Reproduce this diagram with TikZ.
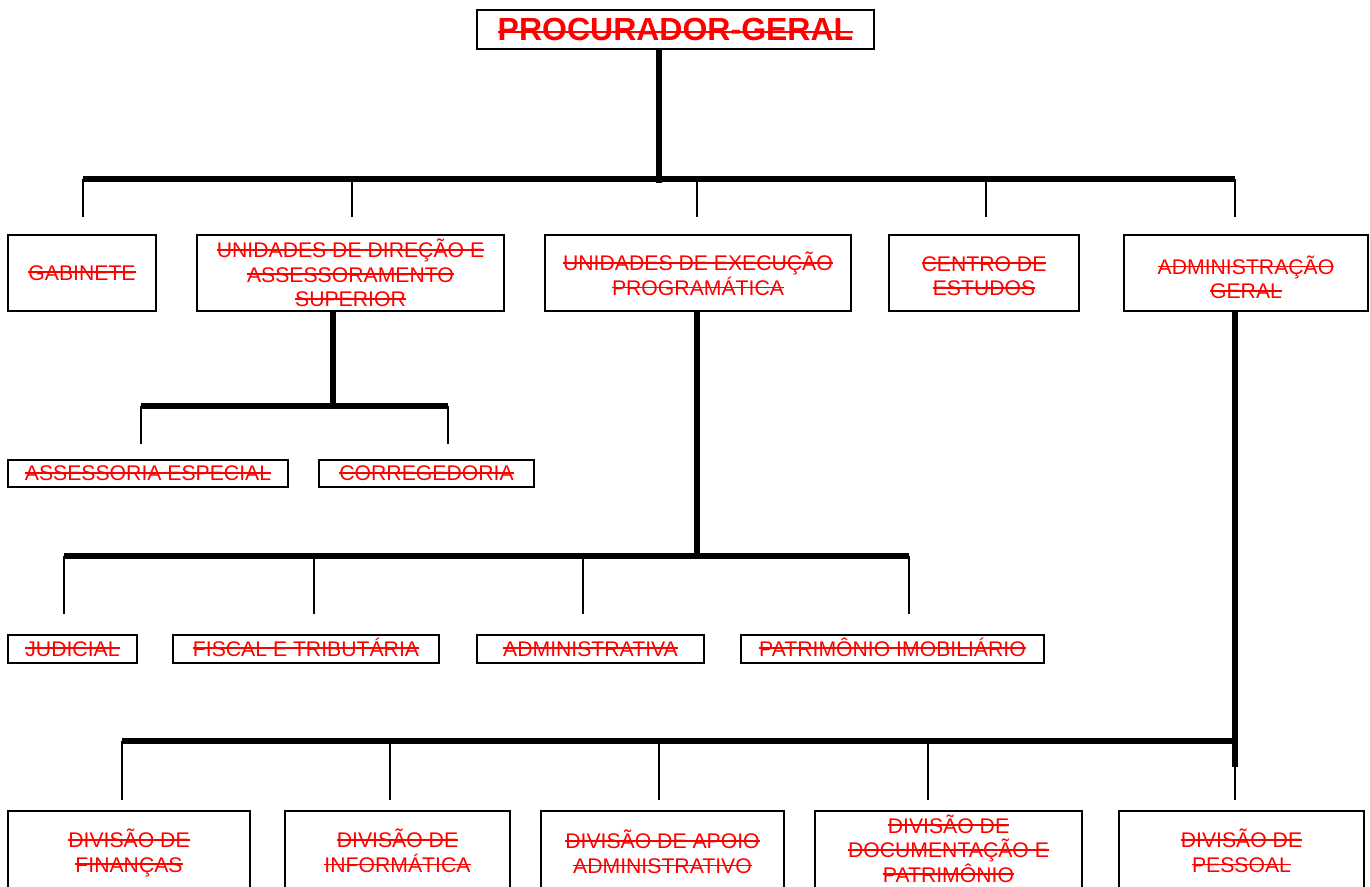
\documentclass[tikz,border=0pt]{standalone}
\usepackage{fontspec}
\setmainfont{Liberation Sans}
\newcommand\stk[2][0.33em]{\leavevmode\setbox0=\hbox{#2}\rlap{\copy0}\rule[#1]{\wd0}{1.4pt}}
\newcommand\orgbox[7][0]{\node[orgnode,minimum width={(#5-#3)*0.75pt},minimum height={(#6-#4)*0.75pt},
  label={[orgtext,yshift={-(#1)*0.75pt}]center:{#7}}] (#2) at ({(#3+#5)/2},{(#4+#6)/2}) {};}
\begin{document}
\begin{tikzpicture}[x=0.75pt,y=-0.75pt,
  orgnode/.style={draw=black,line width=1.6pt,inner sep=0pt},
  orgtext/.style={inner sep=0pt,align=center,text=red,font=\fontsize{15.9}{18.4}\selectfont},
  heavy/.style={line width=3.8pt},
  light/.style={line width=1.3pt}]
\useasboundingbox (0,0) rectangle (1370,886);
\clip (0,0) rectangle (1370,886);
% title
\node[orgnode,minimum width={397*0.75pt},minimum height={39*0.75pt},text=red,
  font=\fontsize{24}{27}\bfseries] (pg) at (675.5,29.5) {\stk[0.25em]{PROCURADOR-GERAL}};
% level 1
\orgbox{gab}{8}{235}{156}{311}{\stk{GABINETE}}
\orgbox{udas}{197}{235}{504}{311}{\stk{UNIDADES DE DIREÇÃO E}\\\stk{ASSESSORAMENTO}\\\stk{SUPERIOR}}
\orgbox[1]{uep}{545}{235}{851}{311}{\stk{UNIDADES DE EXECUÇÃO}\\\stk{PROGRAMÁTICA}}
\orgbox[3]{ce}{889}{235}{1079}{311}{\stk{CENTRO DE}\\\stk{ESTUDOS}}
\orgbox[4.5]{ag}{1124}{235}{1368}{311}{\stk{ADMINISTRAÇÃO}\\\stk{GERAL}}
% level 2
\orgbox{ae}{8}{460}{288}{487}{\stk{ASSESSORIA ESPECIAL}}
\orgbox{cor}{319}{460}{534}{487}{\stk{CORREGEDORIA}}
% level 3
\orgbox{jud}{8}{635}{137}{663}{\stk{JUDICIAL}}
\orgbox[-2]{fis}{173}{635}{439}{663}{\stk{FISCAL E TRIBUTÁRIA}}
\orgbox{adm}{477}{635}{704}{663}{\stk{ADMINISTRATIVA}}
\orgbox[-2]{pat}{741}{635}{1044}{663}{\stk{PATRIMÔNIO IMOBILIÁRIO}}
% level 4
\orgbox[1]{fin}{8}{811}{250}{893}{\stk{DIVISÃO DE}\\\stk{FINANÇAS}}
\orgbox[-1]{inf}{285}{811}{510}{893}{\stk{DIVISÃO DE}\\\stk{INFORMÁTICA}}
\orgbox{apo}{541}{811}{784}{893}{\stk{DIVISÃO DE APOIO}\\\stk{ADMINISTRATIVO}}
\orgbox[-3.5]{doc}{815}{811}{1082}{893}{\stk{DIVISÃO DE}\\\stk{DOCUMENTAÇÃO E}\\\stk{PATRIMÔNIO}}
\orgbox[-1]{pes}{1119}{811}{1364}{893}{\stk{DIVISÃO DE}\\\stk{PESSOAL}}
% junction coordinates
\coordinate (t0) at (659,183);
\coordinate (b1l) at (83,179); \coordinate (b1r) at (1235,179);
\foreach \n/\x in {d1/83,d2/352,d3/697,d4/986,d5/1235}{\coordinate (\n) at (\x,217);}
\coordinate (u1) at (333,406);
\coordinate (b2l) at (141,406); \coordinate (b2r) at (448,406);
\coordinate (e1) at (141,444); \coordinate (e2) at (448,444);
\coordinate (v1) at (697,559);
\coordinate (b3l) at (64,556); \coordinate (b3r) at (909,556);
\foreach \n/\x in {f1/64,f2/314,f3/583,f4/909}{\coordinate (\n) at (\x,614);}
\coordinate (w1) at (1235,767);
\coordinate (b4l) at (122,741); \coordinate (b4r) at (1235,741);
\foreach \n/\x in {g1/122,g2/390,g3/659,g4/928,g5/1235}{\coordinate (\n) at (\x,800);}
% connectors
\draw[heavy] (t0 |- pg.south) -- (t0);
\draw[heavy] (b1l) -- (b1r);
\foreach \n in {d1,d2,d3,d4,d5}{\draw[light] (\n |- b1l) -- (\n);}
\draw[heavy] (u1 |- udas.south) -- (u1);
\draw[heavy] (b2l) -- (b2r);
\draw[light] (b2l) -- (e1);
\draw[light] (b2r) -- (e2);
\draw[heavy] (v1 |- uep.south) -- (v1);
\draw[heavy] (b3l) -- (b3r);
\foreach \n in {f1,f2,f3,f4}{\draw[light] (\n |- b3l) -- (\n);}
\draw[heavy] (w1 |- ag.south) -- (w1);
\draw[heavy] (b4l) -- (b4r);
\foreach \n in {g1,g2,g3,g4}{\draw[light] (\n |- b4l) -- (\n);}
\draw[line width=0.8pt] (w1) -- (g5);
\end{tikzpicture}
\end{document}
